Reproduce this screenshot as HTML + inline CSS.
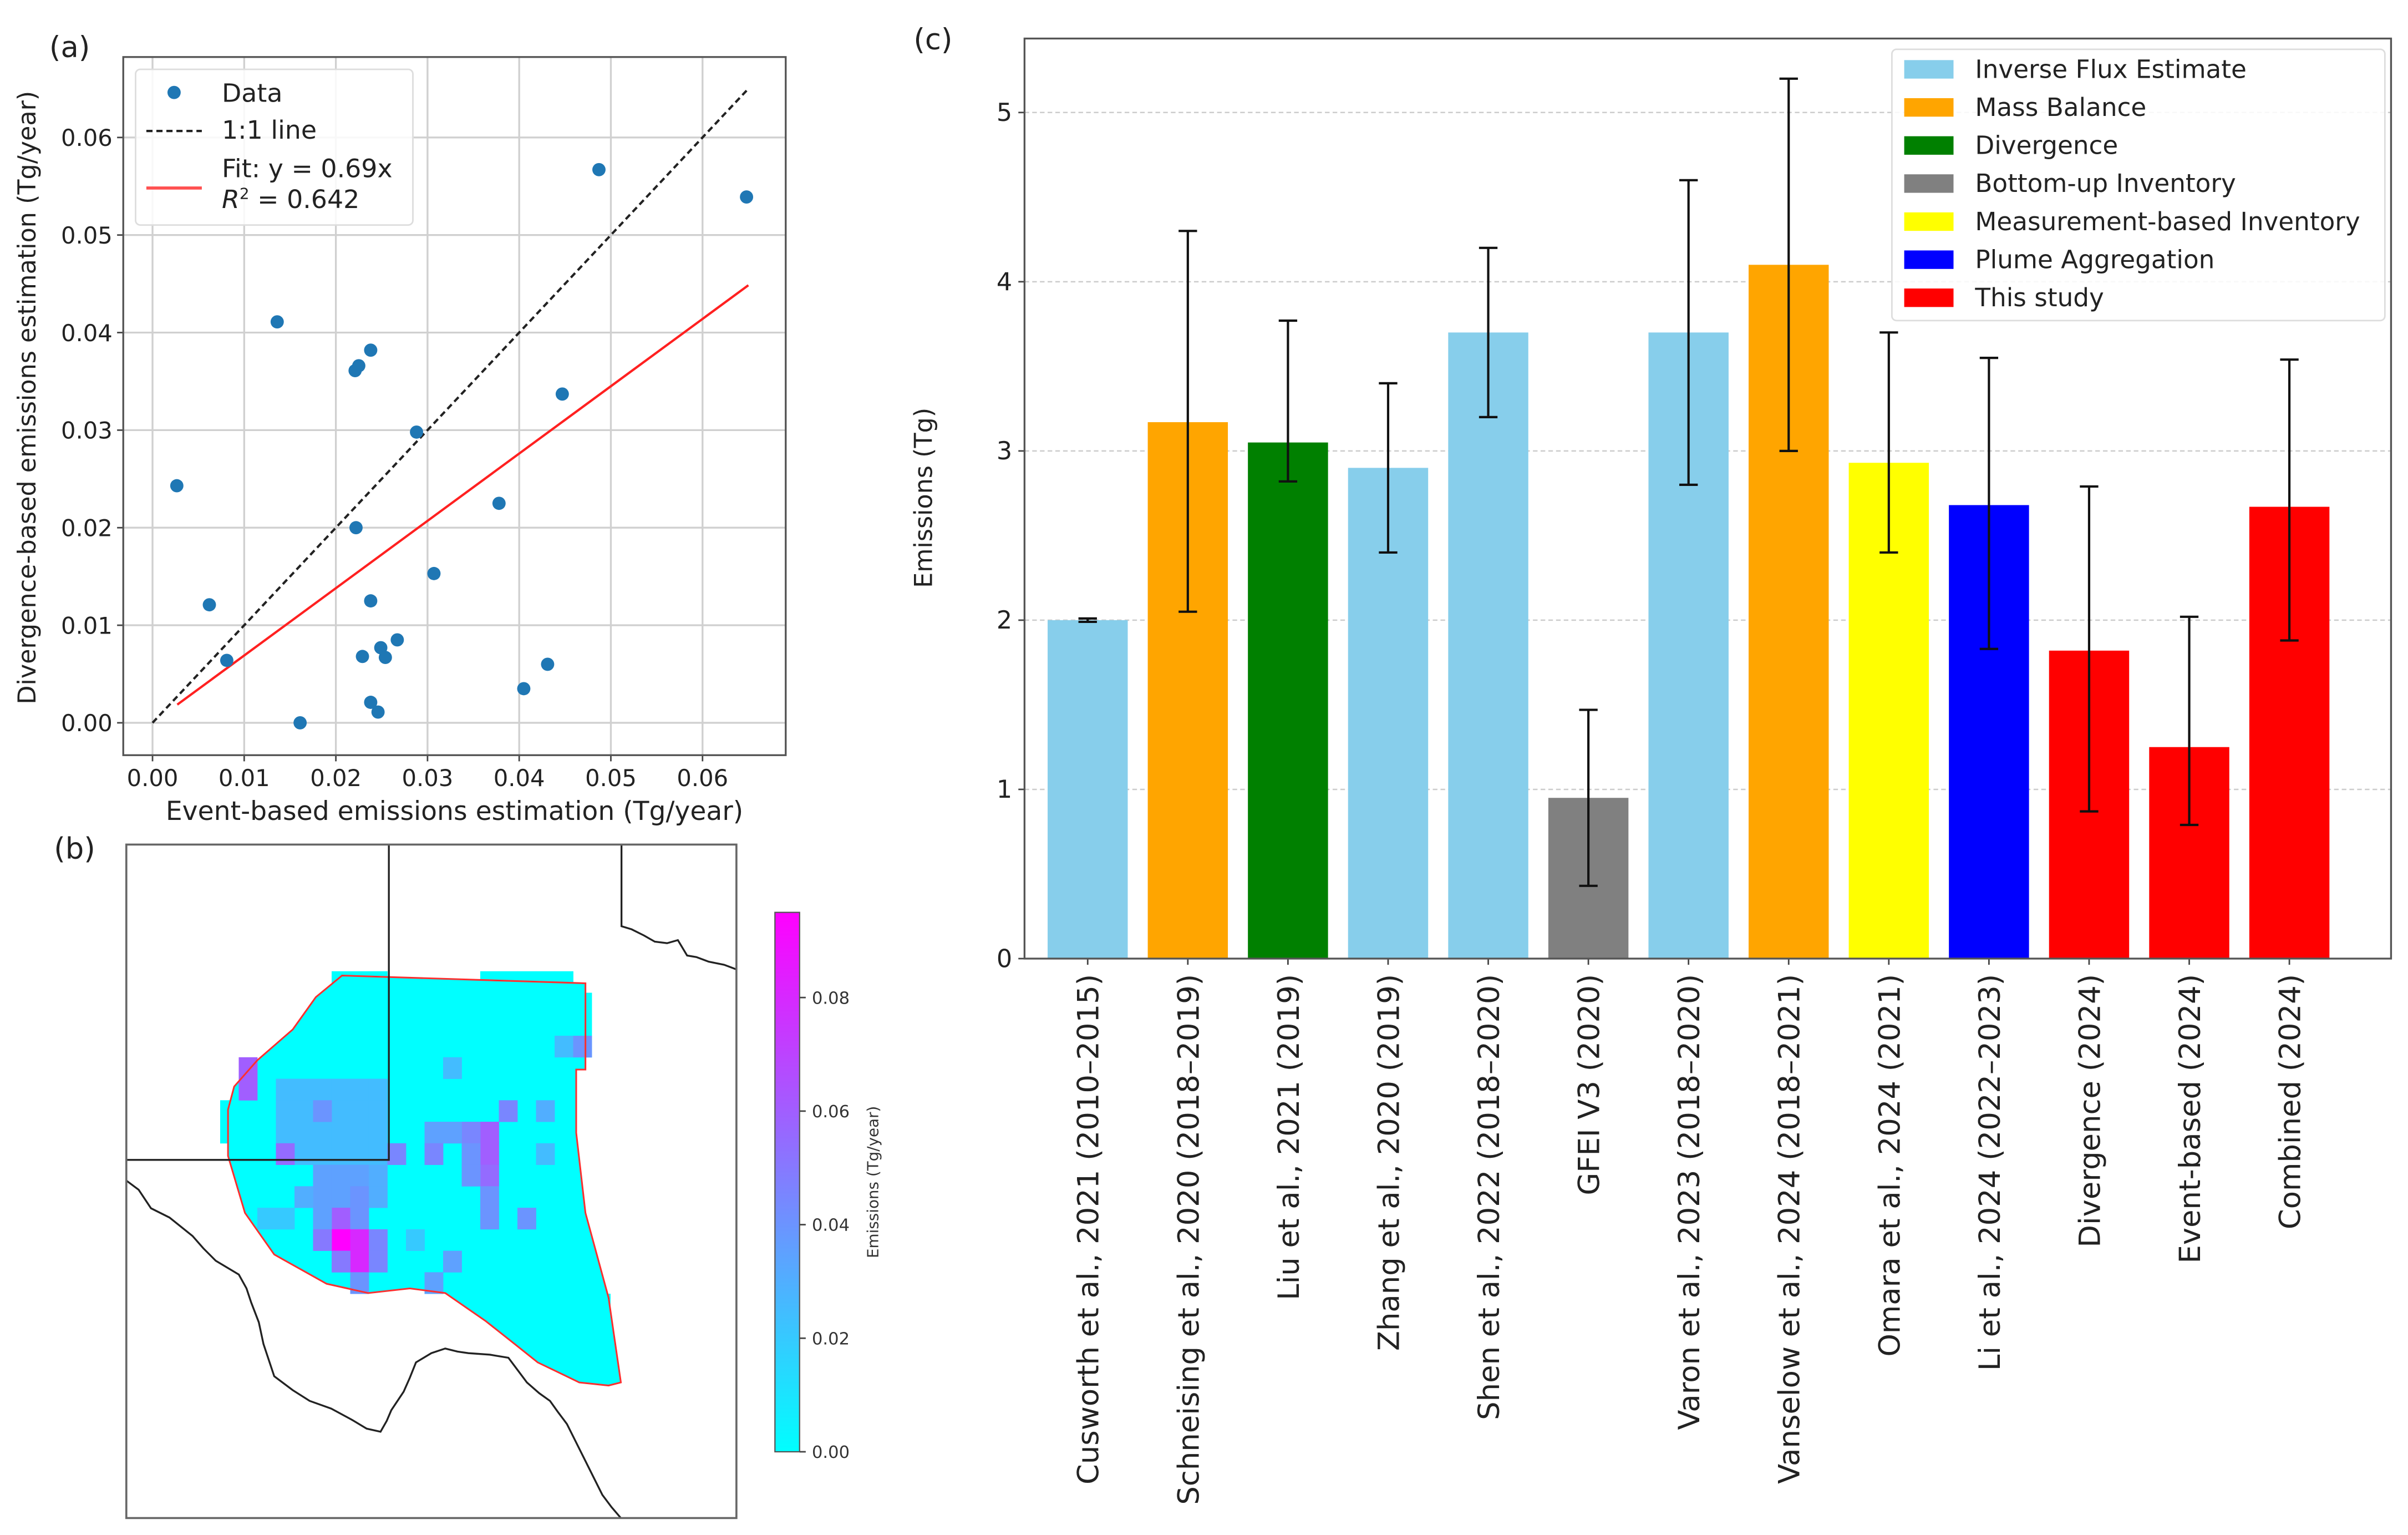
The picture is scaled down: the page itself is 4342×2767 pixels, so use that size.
<!DOCTYPE html>
<html><head><meta charset="utf-8">
<style>
html,body{margin:0;padding:0;background:#fff;}
svg{display:block;font-family:"DejaVu Sans","Liberation Sans",sans-serif;}
</style></head>
<body>
<svg id="fig" width="4342" height="2767" viewBox="0 0 1563 996" preserveAspectRatio="none" xmlns="http://www.w3.org/2000/svg">
<rect width="1563" height="996" fill="#fff"/>
<g id="pa"></g>
<g id="pb"></g>
<g id="pc"></g>
</svg>
<script>
// ---------- Panel (a) data ----------
const scatterX = [0.00265,0.0062,0.0081,0.0136,0.0161,0.0221,0.0225,0.0238,0.0222,0.0238,0.0229,0.0249,0.0254,0.0267,0.0238,0.0246,0.0288,0.0307,0.0378,0.0405,0.0431,0.0447,0.0487,0.0648];
const scatterY = [0.0243,0.0121,0.0064,0.0411,0.0000,0.0361,0.0366,0.0382,0.0200,0.0125,0.0068,0.0077,0.0067,0.0085,0.0021,0.0011,0.0298,0.0153,0.0225,0.0035,0.0060,0.0337,0.0567,0.0539];
const fitSlope = 0.69;
const fitRange = [0.0027,0.065];
const oneToOneRange = [0,0.065];
const aTicks = [0,0.01,0.02,0.03,0.04,0.05,0.06];
const aTickLabels = ["0.00","0.01","0.02","0.03","0.04","0.05","0.06"];

// ---------- Panel (b) data ----------
const cellCols = [1,1, 3,4,5,6,7,8, 3,4,6,7,8, 3,4,5,6,7,8, 3,4,5,6,7,8, 5,12,15,17,14,14,14,13,13,13,11,12,11,3,9, 5,6,7,8,5,6,7,8,4, 6,7,5, 6,7,5,8,7,8,6,10,12,14,14,16,17,7,11,2,3,18,19];
const cellRows = [4,5, 5,5,5,5,5,5, 6,6,6,6,6, 7,7,7,7,7,7, 8,8,8,8,8,8, 6,4,6,6,7,8,9,7,8,9,7,7,8,8,8, 9,9,9,9,10,10,10,10,10, 11,11,11, 12,12,12,12,13,13,13,12,13,10,11,11,8,14,14,11,11,3,3];
const cellVals = [0.06,0.06, 0.025,0.025,0.025,0.025,0.025,0.025, 0.025,0.025,0.025,0.025,0.025, 0.025,0.025,0.025,0.025,0.025,0.025, 0.025,0.025,0.025,0.025,0.025,0.025, 0.04,0.025,0.045,0.03,0.06,0.06,0.055,0.045,0.04,0.04,0.035,0.035,0.045,0.055,0.045, 0.035,0.035,0.035,0.03,0.035,0.035,0.04,0.03,0.03, 0.06,0.04,0.035, 0.095,0.08,0.05,0.045,0.08,0.045,0.05,0.02,0.035,0.04,0.04,0.04,0.025,0.04,0.035,0.02,0.02,0.025,0.04];
const cbTicks = [0,0.02,0.04,0.06,0.08];
const cbTickLabels = ["0.00","0.02","0.04","0.06","0.08"];
const cbMax = 0.095;

// ---------- Panel (c) data ----------
const studies = ["Cusworth et al., 2021 (2010–2015)","Schneising et al., 2020 (2018–2019)","Liu et al., 2021 (2019)","Zhang et al., 2020 (2019)","Shen et al., 2022 (2018–2020)","GFEI V3 (2020)","Varon et al., 2023 (2018–2020)","Vanselow et al., 2024 (2018–2021)","Omara et al., 2024 (2021)","Li et al., 2024 (2022–2023)","Divergence (2024)","Event-based (2024)","Combined (2024)"];
const emissions = [2.0,3.17,3.05,2.9,3.7,0.95,3.7,4.1,2.93,2.68,1.82,1.25,2.67];
const errLow = [1.99,2.05,2.82,2.4,3.2,0.43,2.8,3.0,2.4,1.83,0.87,0.79,1.88];
const errHigh = [2.01,4.3,3.77,3.4,4.2,1.47,4.6,5.2,3.7,3.55,2.79,2.02,3.54];
const methods = [0,1,2,0,0,3,0,1,4,5,6,6,6];
const methodNames = ["Inverse Flux Estimate","Mass Balance","Divergence","Bottom-up Inventory","Measurement-based Inventory","Plume Aggregation","This study"];
const methodColors = ["#87ceeb","#ffa500","#008000","#808080","#ffff00","#0000ff","#ff0000"];
const cTicks = [0,1,2,3,4,5];

const NS="http://www.w3.org/2000/svg";
function mk(parent,tag,attrs,text){const e=document.createElementNS(NS,tag);for(const k in attrs)e.setAttribute(k,attrs[k]);if(text!==undefined)e.textContent=text;parent.appendChild(e);return e;}

// ================= Panel A =================
const pa=document.getElementById('pa');
const ax=v=>99+v*5950, ay=v=>469-v*6330;
const aL=80,aR=510,aT=37,aB=490;
mk(pa,'text',{x:32,y:37,'font-size':19,fill:'#222',},'(a)');
aTicks.forEach((t,i)=>{
  let g=mk(pa,'line',{x1:ax(t),x2:ax(t),y1:aT,y2:aB,stroke:'#d0d0d0','stroke-width':1.2});
  
  g=mk(pa,'line',{x1:aL,x2:aR,y1:ay(t),y2:ay(t),stroke:'#d0d0d0','stroke-width':1.2});
  
  mk(pa,'line',{x1:ax(t),x2:ax(t),y1:aB,y2:aB+4,stroke:'#444'});
  mk(pa,'line',{x1:aL-4,x2:aL,y1:ay(t),y2:ay(t),stroke:'#444'});
  let tx=mk(pa,'text',{x:ax(t),y:aB+20,'font-size':15,'text-anchor':'middle',fill:'#222'},aTickLabels[i]);
  
  tx=mk(pa,'text',{x:aL-7,y:ay(t)+5.5,'font-size':15,'text-anchor':'end',fill:'#222'},aTickLabels[i]);
  
});
mk(pa,'rect',{x:aL,y:aT,width:aR-aL,height:aB-aT,fill:'none',stroke:'#555','stroke-width':1.2,});
mk(pa,'line',{x1:ax(oneToOneRange[0]),y1:ay(oneToOneRange[0]),x2:ax(oneToOneRange[1]),y2:ay(oneToOneRange[1]),stroke:'#222','stroke-width':1.5,'stroke-dasharray':'4,2.5',});
mk(pa,'line',{x1:ax(fitRange[0]),y1:ay(fitRange[0]*fitSlope),x2:ax(fitRange[1]),y2:ay(fitRange[1]*fitSlope),stroke:'#ff2020','stroke-width':1.5,});
scatterX.forEach((x,i)=>{
  const c=mk(pa,'circle',{cx:ax(x),cy:ay(scatterY[i]),r:4.3,fill:'#1f77b4'});
  
  
});
const lgA=mk(pa,'g',{});
mk(lgA,'rect',{x:88,y:45,width:180,height:101,rx:3,fill:'#fff','fill-opacity':0.85,stroke:'#ddd'});
mk(lgA,'circle',{cx:113,cy:60,r:4.3,fill:'#1f77b4'});
mk(lgA,'text',{x:144,y:66,'font-size':16.5,fill:'#222',},'Data');
mk(lgA,'line',{x1:95,x2:131,y1:85,y2:85,stroke:'#222','stroke-width':1.5,'stroke-dasharray':'4,2.5'});
mk(lgA,'text',{x:144,y:90,'font-size':16.5,fill:'#222',},'1:1 line');
mk(lgA,'line',{x1:95,x2:131,y1:122,y2:122,stroke:'#ff5050','stroke-width':2});
mk(lgA,'text',{x:144,y:115,'font-size':16.5,fill:'#222',},'Fit: y = 0.69x');
const r2=mk(lgA,'text',{x:144,y:135,'font-size':16.5,fill:'#222',});
mk(r2,'tspan',{'font-style':'italic'},'R');mk(r2,'tspan',{'font-size':10,dy:-6},'2');mk(r2,'tspan',{dy:6},' = 0.642');
mk(pa,'text',{x:295,y:532,'font-size':17,'text-anchor':'middle',fill:'#222',},'Event-based emissions estimation (Tg/year)');
mk(pa,'text',{x:0,y:0,'font-size':16,'text-anchor':'middle',fill:'#222',transform:'translate(23,258) rotate(-90)',},'Divergence-based emissions estimation (Tg/year)');

// ================= Panel B =================
const pb=document.getElementById('pb');
mk(pb,'text',{x:35,y:557,'font-size':19,fill:'#222',},'(b)');
const gx=c=>142.9+c*12.06, gy=r=>630.2+r*13.95;
const cool=v=>{const t=Math.max(0,Math.min(1,v/cbMax));return `rgb(${Math.round(255*t)},${Math.round(255*(1-t))},255)`;};
const outline=[[222,633],[380,638],[380,694],[374,694],[374,735],[380,787],[395,842],[403,897],[395,899],[376,897],[349,884],[334,872],[315,857],[289,839],[266,836],[239,839],[212,833],[178,814],[159,787],[148,750],[148,720],[152,705],[167,688],[190,668],[205,647]];
const pts=outline.map(p=>p.join(',')).join(' ');
mk(pb,'polygon',{points:pts,fill:'#00ffff',});
[[6,0],[7,0],[8,0],[14,0],[15,0],[16,0],[17,0],[18,0],[19,1],[19,2],[19,3],[1,6],[1,7],[0,6],[0,7],[19,13],[19,14],[20,15],[20,16],[19,18],[20,18]].forEach(p=>{
  const e=mk(pb,'rect',{x:gx(p[0]),y:gy(p[1]),width:12.2,height:14.1,fill:'#00ffff'});
  
});
cellCols.forEach((c,i)=>{
  const e=mk(pb,'rect',{x:gx(c),y:gy(cellRows[i]),width:12.2,height:14.1,fill:cool(cellVals[i])});
  
  
});
mk(pb,'polygon',{points:pts,fill:'none',stroke:'#ff3030','stroke-width':1.1,});
mk(pb,'polyline',{points:'252.4,548 252.4,752.6 82,752.6',fill:'none',stroke:'#222','stroke-width':1.2,});
mk(pb,'polyline',{points:'403.4,548 403.4,601 410,603 418,607 425,611 433,612 440,610 446,620 452,621 460,624 470,626 478,629',fill:'none',stroke:'#222','stroke-width':1.2,});
mk(pb,'polyline',{points:'82,766 90,772 98,784 110,790 125,802 132,810 140,818 155,827 160,836 163,845 168,858 171,872 175,884 178,893 190,902 201,909 215,914 228,921 238,927 247,929 251,922 254,915 258,909 262,903 266,894 270,884 280,878 289,875 297,877 304,878 318,879 330,881 336,889 342,897 350,904 357,909 362,916 368,924 374,936 380,948 386,960 391,970 397,978 403,985',fill:'none',stroke:'#222','stroke-width':1.2,});
mk(pb,'rect',{x:82,y:548,width:396,height:437,fill:'none',stroke:'#666','stroke-width':1.3,});
const defs=mk(pb,'defs',{});
const lg=mk(defs,'linearGradient',{id:'cbg',x1:0,y1:1,x2:0,y2:0});
mk(lg,'stop',{offset:'0','stop-color':'#00ffff'});mk(lg,'stop',{offset:'1','stop-color':'#ff00ff'});
const cbY=v=>942-v*(350/cbMax);
mk(pb,'rect',{x:503,y:592,width:16,height:350,fill:'url(#cbg)',stroke:'#555','stroke-width':0.8,});
cbTicks.forEach((t,i)=>{
  mk(pb,'line',{x1:519,x2:523,y1:cbY(t),y2:cbY(t),stroke:'#444'});
  const e=mk(pb,'text',{x:527,y:cbY(t)+4,'font-size':11,fill:'#333'},cbTickLabels[i]);
  
});
mk(pb,'text',{x:0,y:0,'font-size':10,'text-anchor':'middle',fill:'#333',transform:'translate(570,767) rotate(-90)',},'Emissions (Tg/year)');

// ================= Panel C =================
const pc=document.getElementById('pc');
mk(pc,'text',{x:593,y:32,'font-size':19,fill:'#222',},'(c)');
const cL=665,cR=1552,cT=25,cB=622;
const cy=v=>622-v*109.8, cx=i=>706+i*65;
cTicks.forEach(t=>{
  if(t>0){const g=mk(pc,'line',{x1:cL,x2:cR,y1:cy(t),y2:cy(t),stroke:'#ccc','stroke-dasharray':'3,2','stroke-width':0.9});}
  mk(pc,'line',{x1:cL-4,x2:cL,y1:cy(t),y2:cy(t),stroke:'#444'});
  const e=mk(pc,'text',{x:cL-8,y:cy(t)+5.5,'font-size':16,'text-anchor':'end',fill:'#222'},String(t));
  
});
emissions.forEach((v,i)=>{
  const b=mk(pc,'rect',{x:cx(i)-26,y:cy(v),width:52,height:cy(0)-cy(v),fill:methodColors[methods[i]]});
  
  
});
emissions.forEach((v,i)=>{
  const g=mk(pc,'g',{stroke:'#111','stroke-width':1.5});
  
  
  mk(g,'line',{x1:cx(i),x2:cx(i),y1:cy(errLow[i]),y2:cy(errHigh[i])});
  mk(g,'line',{x1:cx(i)-6,x2:cx(i)+6,y1:cy(errLow[i]),y2:cy(errLow[i])});
  mk(g,'line',{x1:cx(i)-6,x2:cx(i)+6,y1:cy(errHigh[i]),y2:cy(errHigh[i])});
  mk(pc,'line',{x1:cx(i),x2:cx(i),y1:cB,y2:cB+4,stroke:'#444'});
  const t=mk(pc,'text',{x:0,y:0,'font-size':19,'text-anchor':'end',fill:'#222',transform:`translate(${cx(i)+7},${cB+10}) rotate(-90)`},studies[i]);
  
  
});
mk(pc,'rect',{x:cL,y:cT,width:cR-cL,height:cB-cT,fill:'none',stroke:'#555','stroke-width':1.2,});
mk(pc,'text',{x:0,y:0,'font-size':16,'text-anchor':'middle',fill:'#222',transform:'translate(605,323) rotate(-90)',},'Emissions (Tg)');
const lgC=mk(pc,'g',{});
mk(lgC,'rect',{x:1228,y:32,width:320,height:176,rx:3,fill:'#fff','fill-opacity':0.85,stroke:'#ddd'});
methodNames.forEach((n,i)=>{
  const y=45+i*24.7;
  mk(lgC,'rect',{x:1236,y:y-6,width:32,height:12,fill:methodColors[i]});
  const e=mk(lgC,'text',{x:1282,y:y+5.5,'font-size':16.3,fill:'#222'},n);
  
});
</script>
</body></html>
